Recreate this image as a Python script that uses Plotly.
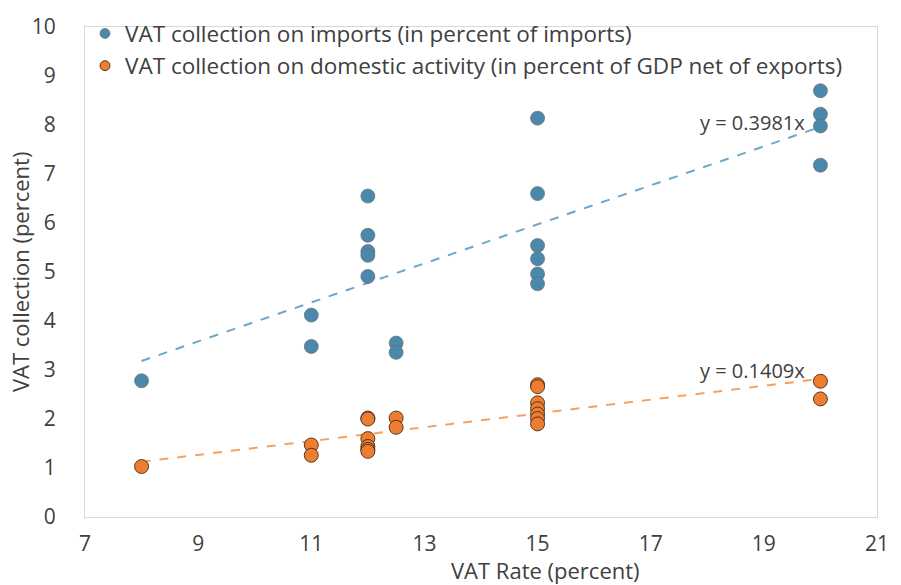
import plotly.graph_objects as go

# ---- data ----
imp_x = [8, 11, 11, 12, 12, 12, 12, 12, 12.5, 12.5, 15, 15, 15, 15, 15, 15, 20, 20, 20, 20]
imp_y = [2.78, 4.12, 3.48, 6.55, 5.75, 5.42, 5.34, 4.91, 3.55, 3.36, 8.14, 6.60, 5.54, 5.27, 4.96, 4.76, 8.70, 8.22, 7.98, 7.18]

dom_x = [8, 11, 11, 12, 12, 12, 12, 12, 12, 12.5, 12.5, 15, 15, 15, 15, 15, 15, 15, 20, 20]
dom_y = [1.03, 1.47, 1.26, 2.02, 2.00, 1.60, 1.44, 1.38, 1.34, 2.02, 1.83, 2.70, 2.66, 2.33, 2.21, 2.10, 2.01, 1.90, 2.77, 2.41]

imp_slope = 0.3981
dom_slope = 0.1409
trend_x = [8, 20]

x_ticks = [7, 9, 11, 13, 15, 17, 19, 21]
y_ticks = list(range(0, 11))

name_imp = "VAT collection on imports (in percent of imports)"
name_dom = "VAT collection on domestic activity (in percent of GDP net of exports)"

blue = "#4A88AC"
orange = "#ED7D31"
FONT = "Open Sans"
txt = "#404040"

fig = go.Figure()

fig.add_trace(go.Scatter(
    x=trend_x, y=[imp_slope * v for v in trend_x], mode="lines",
    line=dict(color="#6FA6C8", width=2, dash="dash"), showlegend=False, hoverinfo="skip"))
fig.add_trace(go.Scatter(
    x=trend_x, y=[dom_slope * v for v in trend_x], mode="lines",
    line=dict(color="#F4A263", width=2, dash="dash"), showlegend=False, hoverinfo="skip"))

fig.add_trace(go.Scatter(
    x=imp_x, y=imp_y, mode="markers", name=name_imp, showlegend=False,
    marker=dict(color=blue, size=14, line=dict(color="rgba(110,110,110,0.7)", width=1))))
fig.add_trace(go.Scatter(
    x=dom_x, y=dom_y, mode="markers", name=name_dom, showlegend=False,
    marker=dict(color=orange, size=14, line=dict(color="rgba(60,40,20,0.85)", width=1))))

# legend entries (smaller legend symbols as in the reference)
fig.add_trace(go.Scatter(x=[None], y=[None], mode="markers", name=name_imp,
                         marker=dict(color=blue, size=10, line=dict(color="rgba(110,110,110,0.7)", width=1))))
fig.add_trace(go.Scatter(x=[None], y=[None], mode="markers", name=name_dom,
                         marker=dict(color=orange, size=10, line=dict(color="rgba(60,40,20,0.85)", width=1))))

fig.add_annotation(x=19.76, y=8.05, xref="x", yref="y", text="y = 0.3981x", showarrow=False,
                   xanchor="right", yanchor="middle", font=dict(family=FONT, size=20, color=txt))
fig.add_annotation(x=19.76, y=2.98, xref="x", yref="y", text="y = 0.1409x", showarrow=False,
                   xanchor="right", yanchor="middle", font=dict(family=FONT, size=20, color=txt))

fig.add_annotation(x=0.581, y=-0.14, xref="paper", yref="paper", text="VAT Rate (percent)",
                   showarrow=False, xanchor="center", yanchor="bottom", borderpad=0,
                   font=dict(family=FONT, size=22, color=txt))
fig.add_annotation(x=-0.082, y=0.5, xref="paper", yref="paper", text="VAT collection (percent)",
                   showarrow=False, xanchor="center", yanchor="middle", textangle=-90,
                   font=dict(family=FONT, size=22, color=txt))

fig.update_layout(
    width=901, height=585,
    margin=dict(l=85, r=17, t=14, b=68),
    paper_bgcolor="white", plot_bgcolor="white",
    font=dict(family=FONT, size=21, color=txt),
    showlegend=True,
    legend=dict(x=0.0, y=1.03, xanchor="left", yanchor="top", bgcolor="rgba(0,0,0,0)",
                font=dict(family=FONT, size=22.5, color=txt), tracegroupgap=0),
    xaxis=dict(range=[7, 21], tickvals=x_ticks, showgrid=False, zeroline=False,
               showline=True, linecolor="#D9D9D9", linewidth=1, mirror=True,
               ticks="", ticklabelstandoff=8, ticklabeloverflow="allow",
               tickfont=dict(family=FONT, size=21, color=txt)),
    yaxis=dict(range=[0, 10], tickvals=y_ticks, showgrid=False, zeroline=False,
               showline=True, linecolor="#D9D9D9", linewidth=1, mirror=True,
               ticks="", ticklabelstandoff=24, ticklabeloverflow="allow",
               tickfont=dict(family=FONT, size=21, color=txt)),
)

fig.write_html("out.html", config={"displayModeBar": False},
               post_script="document.body.style.margin='0';document.body.style.overflow='hidden';")
